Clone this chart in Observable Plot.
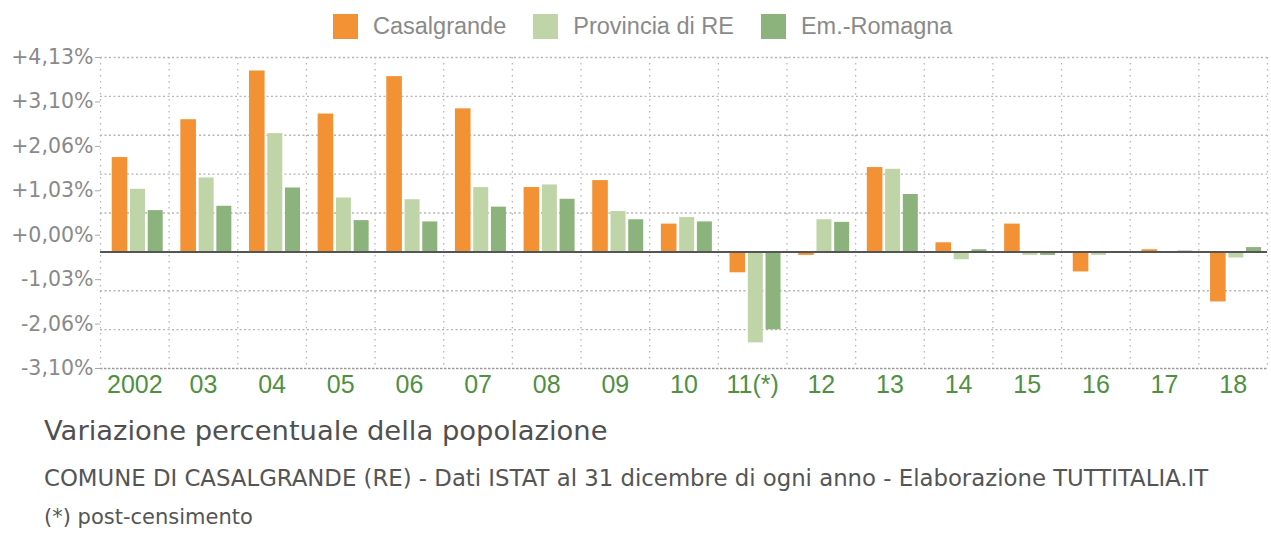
<!DOCTYPE html>
<html>
<head>
<meta charset="utf-8">
<script src="https://cdn.jsdelivr.net/npm/d3@7"></script>
<script src="https://cdn.jsdelivr.net/npm/@observablehq/plot@0.6"></script>
<style>
  html, body { margin: 0; padding: 0; background: #ffffff; }
  #wrap { position: relative; width: 1271px; height: 533px; overflow: hidden; }
  #legend { position: absolute; left: 333px; top: 13px; height: 26px; display: flex; align-items: center;
            font-family: "Liberation Sans", Arial, sans-serif; font-size: 23.5px; color: #8a8a8a; }
  #legend .item { display: flex; align-items: center; margin-right: 27px; }
  #legend .sw { width: 25px; height: 25px; margin-right: 15px; }
  #chart { position: absolute; left: 0; top: 50px; }
  .t { position: absolute; left: 44px; white-space: nowrap; font-family: "DejaVu Sans", sans-serif; line-height: 1; }
  #title { top: 417px; font-size: 27.4px; color: #505050; }
  #cap1 { top: 467px; font-size: 22.8px; color: #555555; }
  #cap2 { top: 507px; font-size: 21px; color: #555555; }
</style>
</head>
<body>
<div id="wrap">
  <div id="legend"></div>
  <div id="chart"></div>
  <div id="title" class="t"></div>
  <div id="cap1" class="t"></div>
  <div id="cap2" class="t"></div>
</div>
<script>
// ---- data ----
const years = ["2002","03","04","05","06","07","08","09","10","11(*)","12","13","14","15","16","17","18"];
const seriesNames = ["Casalgrande", "Provincia di RE", "Em.-Romagna"];
const casalgrande = [2.17, 3.04, 4.16, 3.17, 4.03, 3.29, 1.48, 1.64, 0.64, -0.48, -0.08, 1.94, 0.21, 0.64, -0.46, 0.05, -1.15];
const provincia   = [1.44, 1.70, 2.72, 1.24, 1.20, 1.48, 1.54, 0.93, 0.79, -2.09, 0.74, 1.90, -0.18, -0.08, -0.08, 0.00, -0.14];
const emilia      = [0.95, 1.05, 1.47, 0.72, 0.69, 1.03, 1.21, 0.74, 0.69, -1.79, 0.68, 1.32, 0.05, -0.08, 0.00, 0.02, 0.10];
const yTickLabels = ["+4,13%", "+3,10%", "+2,06%", "+1,03%", "+0,00%", "-1,03%", "-2,06%", "-3,10%"];
const colors = ["#f39235", "#bfd5a8", "#8db37c"];

const titleText = "Variazione percentuale della popolazione";
const caption1 = "COMUNE DI CASALGRANDE (RE) - Dati ISTAT al 31 dicembre di ogni anno - Elaborazione TUTTITALIA.IT";
const caption2 = "(*) post-censimento";

// ---- table ----
const valuesBySeries = [casalgrande, provincia, emilia];
const rows = [];
seriesNames.forEach((s, si) => years.forEach((y, i) => rows.push({year: y, series: s, value: valuesBySeries[si][i]})));

// ---- axis extent (chart's own quirky axis) ----
const yMax = 4.47, yMin = -2.68;
const gridVals = d3.range(9).map(i => yMin + i * (yMax - yMin) / 8);
const labelPos = yTickLabels.map((_, i) => yMax - i * (yMax - yMin) / (yTickLabels.length - 1));
const labelMap = new Map(labelPos.map((p, i) => [p, yTickLabels[i]]));

const W = 1271, H = 355, mL = 100, mR = 4, mT = 7, mB = 37;
const bw = (W - mL - mR) / years.length;
const insets = [[11.7, bw - 27.3], [30, bw - 45], [47.7, bw - 62.7]];

const marks = [
  Plot.gridY(gridVals.slice(1, -1), {stroke: "#b5b5b5", strokeOpacity: 1, strokeDasharray: "2,2.5", strokeWidth: 1.3}),
  Plot.gridY([yMax], {stroke: "#b5b5b5", strokeOpacity: 1, strokeDasharray: "2,2.5", strokeWidth: 1.3}),
  Plot.gridY([yMin], {stroke: "#9a9a9a", strokeOpacity: 1, strokeDasharray: "2.5,1.5", strokeWidth: 1.5}),
  Plot.ruleX(years, {x: d => d, dx: -bw / 2, stroke: "#b5b5b5", strokeDasharray: "1.5,4.5", strokeWidth: 1.3}),
  Plot.ruleX([years[years.length - 1]], {x: d => d, dx: bw / 2, stroke: "#b5b5b5", strokeDasharray: "1.5,4.5", strokeWidth: 1.3}),
  ...seriesNames.map((s, si) => Plot.barY(rows.filter(r => r.series === s), {
    x: "year", y: "value", fill: colors[si], insetLeft: insets[si][0], insetRight: insets[si][1]
  })),
  Plot.ruleY([0], {stroke: "#555555", strokeWidth: 2}),
  Plot.axisY({ticks: labelPos, tickFormat: d => labelMap.get(d), tickSize: 5, tickPadding: 2, label: null,
              fontSize: 20.5, fill: "#8a8a8a", stroke: "#aaaaaa", fontFamily: "DejaVu Sans"}),
  Plot.axisX({tickSize: 0, tickPadding: 7, fontSize: 25, fill: "#4f9043", fontFamily: "Liberation Sans",
              lineAnchor: "top", label: null})
];

const chart = Plot.plot({
  width: W, height: H,
  marginLeft: mL, marginRight: mR, marginTop: mT, marginBottom: mB,
  x: {type: "band", domain: years, padding: 0, round: false, label: null},
  y: {domain: [yMin, yMax], label: null},
  style: {fontFamily: "DejaVu Sans", background: "transparent", overflow: "visible"},
  marks
});
document.getElementById("chart").appendChild(chart);

// ---- legend ----
const legend = document.getElementById("legend");
seriesNames.forEach((s, i) => {
  const item = document.createElement("div"); item.className = "item";
  const sw = document.createElement("div"); sw.className = "sw"; sw.style.background = colors[i];
  const tx = document.createElement("span"); tx.textContent = s;
  item.appendChild(sw); item.appendChild(tx); legend.appendChild(item);
});
document.getElementById("title").textContent = titleText;
document.getElementById("cap1").textContent = caption1;
document.getElementById("cap2").textContent = caption2;
</script>
</body>
</html>
